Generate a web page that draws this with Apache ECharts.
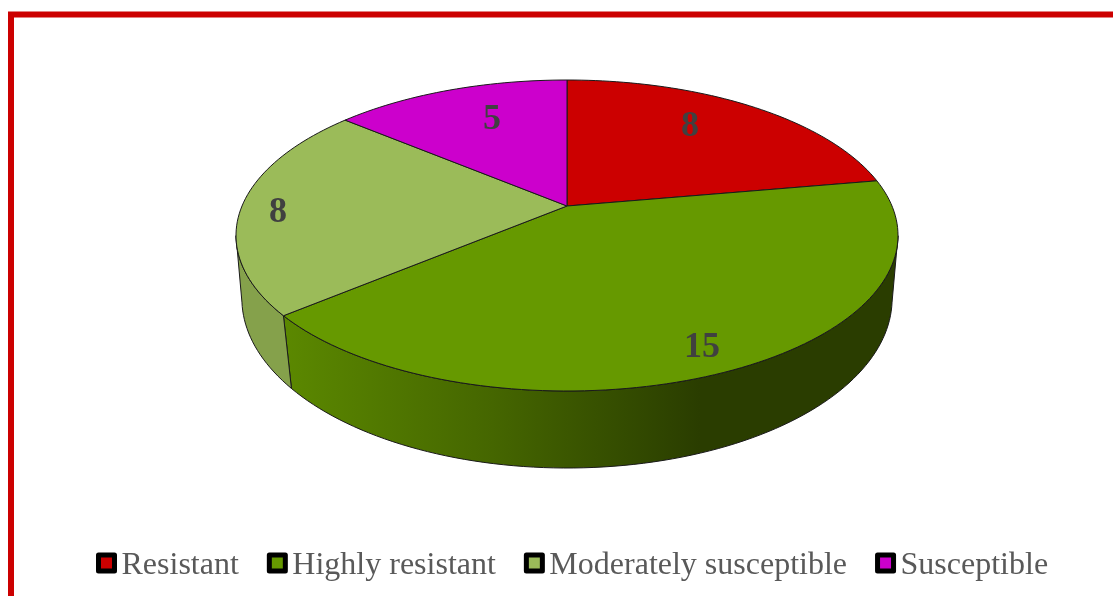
<!DOCTYPE html>
<html>
<head>
<meta charset="utf-8">
<style>html,body{margin:0;padding:0;background:#fff}#c{width:1113px;height:596px}</style>
<script src="https://cdn.jsdelivr.net/npm/echarts@6/dist/echarts.min.js"></script>
</head>
<body>
<div id="c"></div>
<script>
const categories = ['Resistant', 'Highly resistant', 'Moderately susceptible', 'Susceptible'];
const values = [8, 15, 8, 5];
const colors = ['#CC0000', '#669900', '#9BBB59', '#CC00CC'];
const labelPositions = [[690, 127], [702, 348], [278, 213], [492, 120]];

const sideFills = [
  '#7A0000',
  {type: 'linear', x: 285, y: 0, x2: 700, y2: 0, global: true, colorStops: [
    {offset: 0, color: '#5B8800'}, {offset: 0.5, color: '#456600'}, {offset: 1, color: '#2A3D00'}]},
  '#85A14B',
  '#7A007A'
];

// Perspective projection of the two faces of the disc
function projectTop(deg) {
  const t = deg * Math.PI / 180, X = Math.sin(t), Y = -Math.cos(t);
  const w = 1 - 0.1897 * Y;
  return [567 + 325 * X / w, 206 + 149.9 * Y / w];
}
function projectBottom(deg) {
  const t = deg * Math.PI / 180, X = Math.sin(t), Y = -Math.cos(t);
  const w = 1 - 0.17 * Y;
  return [567 + 320.4 * X / w, 269.7 + 164.6 * Y / w];
}
function arc(a, b, fn) {
  const pts = [], n = Math.max(2, Math.ceil(Math.abs(b - a) / 1.5));
  for (let i = 0; i <= n; i++) pts.push(fn(a + (b - a) * i / n));
  return pts;
}
const total = values.reduce((s, v) => s + v, 0);
function startAngle(i) {
  return values.slice(0, i).reduce((s, v) => s + v, 0) / total * 360;
}
const apex = [567, 206];
const visibleFrom = 101, visibleTo = 259; // silhouette of the visible rim

function makeRender(i) {
  return function () {
    const a = startAngle(i), b = a + values[i] / total * 360;
    const children = [];
    const sa = Math.max(a, visibleFrom), sb = Math.min(b, visibleTo);
    if (sb > sa) {
      children.push({type: 'polygon', z2: 1, silent: true,
        shape: {points: arc(sa, sb, projectTop).concat(arc(sb, sa, projectBottom))},
        style: {fill: sideFills[i], stroke: '#1a1a1a', lineWidth: 1, lineJoin: 'round'}});
    }
    children.push({type: 'polygon', z2: 2, silent: true,
      shape: {points: [apex].concat(arc(a, b, projectTop))},
      style: {fill: colors[i], stroke: '#1a1a1a', lineWidth: 1, lineJoin: 'round'}});
    children.push({type: 'text', z2: 3, silent: true,
      style: {x: labelPositions[i][0], y: labelPositions[i][1], text: String(values[i]),
              fill: '#404040', fontFamily: 'Liberation Serif', fontWeight: 'bold', fontSize: 36,
              textAlign: 'center', textVerticalAlign: 'middle'}});
    return {type: 'group', children};
  };
}

const chart = echarts.init(document.getElementById('c'), null, {renderer: 'canvas'});
chart.setOption({
  animation: false,
  backgroundColor: '#ffffff',
  graphic: [{type: 'rect', silent: true, shape: {x: 11, y: 14.5, width: 1300, height: 800},
             style: {fill: 'none', stroke: '#CC0000', lineWidth: 6}}],
  legend: {
    left: 91, top: 545, orient: 'horizontal', icon: 'rect',
    itemWidth: 16, itemHeight: 16, itemGap: 28, selectedMode: false,
    itemStyle: {borderColor: '#000', borderWidth: 5, borderJoin: 'round'},
    formatter: '{t|{name}}',
    textStyle: {fontFamily: 'Liberation Serif', fontSize: 32, color: '#595959',
      rich: {t: {fontFamily: 'Liberation Serif', fontSize: 32, color: '#595959', padding: [6, 0, 0, 2]}}},
    data: categories
  },
  series: categories.map((name, i) => ({
    type: 'custom', name, coordinateSystem: 'none', silent: true,
    itemStyle: {color: colors[i]},
    data: [[values[i]]],
    renderItem: makeRender(i)
  }))
});
</script>
</body>
</html>
